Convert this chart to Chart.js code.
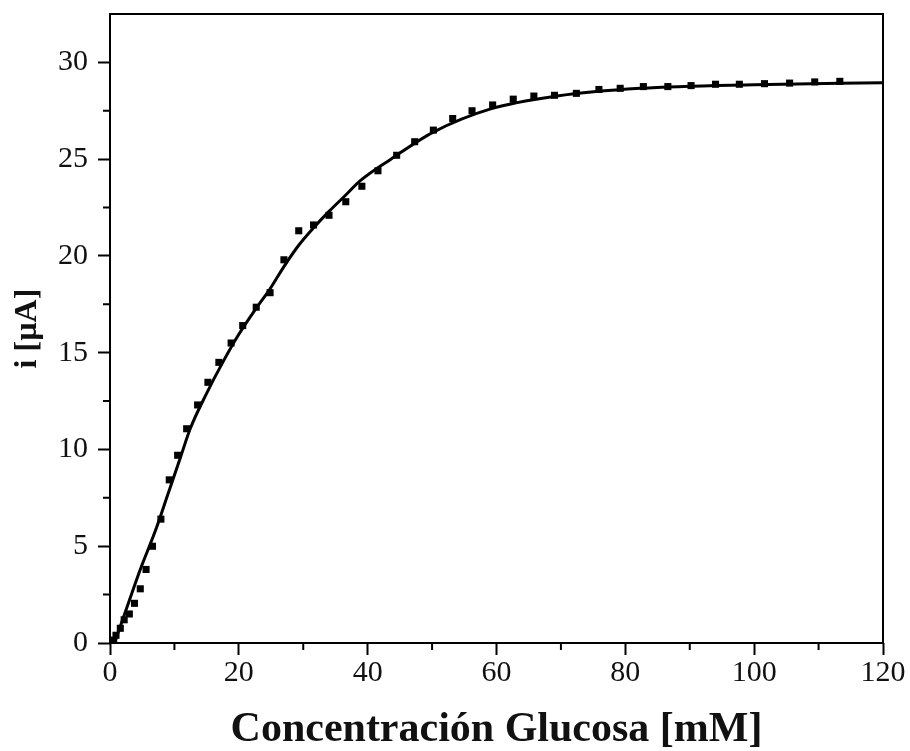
<!DOCTYPE html>
<html>
<head>
<meta charset="utf-8">
<script src="https://cdn.jsdelivr.net/npm/chart.js@4.4.1/dist/chart.umd.min.js"></script>
<style>
  html, body { margin: 0; padding: 0; background: #fff; }
  #wrap { width: 910px; height: 751px; }
</style>
</head>
<body>
<div id="wrap"><canvas id="chart"></canvas></div>
<script>
// measured points
const concX = [0.57, 0.93, 1.6, 2.2, 3.0, 3.8, 4.7, 5.6, 6.6, 7.9, 9.2, 10.5, 11.9, 13.6, 15.2, 16.9, 18.8,
  20.6, 22.7, 24.85, 27.0, 29.3, 31.6, 34.0, 36.6, 39.1, 41.6, 44.5, 47.3, 50.2, 53.2, 56.2, 59.4,
  62.6, 65.8, 69.0, 72.4, 75.9, 79.2, 82.8, 86.6, 90.2, 94.0, 97.7, 101.6, 105.5, 109.4, 113.3];
const corriente = [0.15, 0.4, 0.76, 1.2, 1.5, 2.05, 2.8, 3.8, 5.0, 6.4, 8.43, 9.7, 11.07, 12.3, 13.47, 14.5, 15.5,
  16.4, 17.35, 18.1, 19.8, 21.3, 21.6, 22.1, 22.8, 23.6, 24.4, 25.2, 25.9, 26.5, 27.1, 27.5, 27.8,
  28.1, 28.26, 28.3, 28.4, 28.6, 28.66, 28.75, 28.75, 28.8, 28.87, 28.87, 28.9, 28.93, 28.99, 29.02];

// fitted curve
const ajusteX = [0.7, 3, 4.7, 7.1, 9, 11, 12.45, 15, 17.5, 20, 22.7, 24.85, 27, 29.3, 31.6, 34, 36.6, 38.9,
  43.6, 50.2, 59.1, 69.4, 82.3, 100, 120];
const ajusteY = [0, 2.2, 3.8, 5.85, 7.7, 9.65, 11.07, 12.9, 14.5, 15.95, 17.3, 18.3, 19.45, 20.55, 21.45, 22.3, 23.15, 23.9,
  25.0, 26.4, 27.6, 28.26, 28.66, 28.85, 28.95];

const xTicks = [0, 20, 40, 60, 80, 100, 120];
const xMinor = [10, 30, 50, 70, 90, 110];
const yTicks = [0, 5, 10, 15, 20, 25, 30];
const yMinor = [2.5, 7.5, 12.5, 17.5, 22.5, 27.5];

const serif = "'Liberation Serif', 'Times New Roman', serif";

const frame = {
  id: 'frame',
  afterDraw(chart) {
    const { ctx, chartArea: a, scales } = chart;
    ctx.save();
    ctx.strokeStyle = '#000';
    ctx.lineWidth = 2;
    ctx.strokeRect(a.left, a.top, a.right - a.left, a.bottom - a.top);
    ctx.beginPath();
    xMinor.forEach(v => {
      const px = scales.x.getPixelForValue(v);
      ctx.moveTo(px, a.bottom);
      ctx.lineTo(px, a.bottom + 7);
    });
    yMinor.forEach(v => {
      const py = scales.y.getPixelForValue(v);
      ctx.moveTo(a.left, py);
      ctx.lineTo(a.left - 7, py);
    });
    ctx.stroke();
    ctx.restore();
  }
};

new Chart(document.getElementById('chart'), {
  type: 'scatter',
  data: {
    datasets: [
      {
        label: 'ajuste',
        data: ajusteX.map((x, i) => ({ x: x, y: ajusteY[i] })),
        showLine: true,
        borderColor: '#000',
        borderWidth: 3,
        pointRadius: 0,
        cubicInterpolationMode: 'monotone',
        order: 2
      },
      {
        label: 'datos',
        data: concX.map((x, i) => ({ x: x, y: corriente[i] })),
        pointStyle: 'rect',
        pointRadius: 5,
        backgroundColor: '#000',
        borderColor: '#000',
        borderWidth: 0,
        order: 1
      }
    ]
  },
  options: {
    responsive: true,
    maintainAspectRatio: false,
    animation: false,
    layout: { padding: { top: 14, right: 27, left: 0, bottom: 0 } },
    plugins: { legend: { display: false }, tooltip: { enabled: false } },
    scales: {
      x: {
        type: 'linear',
        min: 0,
        max: 120,
        afterBuildTicks: axis => { axis.ticks = xTicks.map(v => ({ value: v })); },
        afterFit: axis => { axis.height = 108; },
        grid: { drawOnChartArea: false, drawTicks: true, tickLength: 12, tickColor: '#000', tickWidth: 2 },
        border: { display: false },
        ticks: { color: '#111', font: { family: serif, size: 30 }, padding: 0, maxRotation: 0 },
        title: {
          display: true,
          text: 'Concentración Glucosa [mM]',
          color: '#111',
          font: { family: serif, size: 42, weight: 'bold', lineHeight: 1 },
          padding: { top: 0, bottom: 0 }
        }
      },
      y: {
        type: 'linear',
        min: 0,
        max: 32.5,
        afterBuildTicks: axis => { axis.ticks = yTicks.map(v => ({ value: v })); },
        afterFit: axis => { axis.width = 110; axis.paddingTop = 0; axis.paddingBottom = 0; },
        grid: { drawOnChartArea: false, drawTicks: true, tickLength: 12, tickColor: '#000', tickWidth: 2 },
        border: { display: false },
        ticks: { color: '#111', font: { family: serif, size: 30 }, padding: 10 },
        title: {
          display: true,
          text: 'i [µA]',
          color: '#111',
          font: { family: serif, size: 32, weight: 'bold', lineHeight: 1 },
          padding: { top: 12, bottom: 0 }
        }
      }
    }
  },
  plugins: [frame]
});
</script>
</body>
</html>
